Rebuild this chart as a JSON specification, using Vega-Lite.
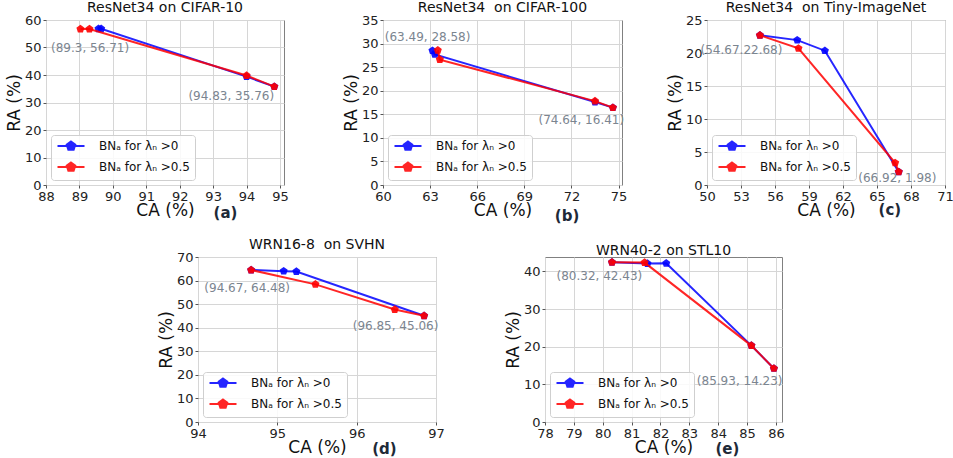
{
  "$schema": "https://vega.github.io/schema/vega-lite/v6.json",
  "padding": {"left": 4, "top": 0, "right": 0, "bottom": 0},
  "background": "white",
  "datasets": {
    "pts": [
      {"panel": "a", "k": 0, "series": "BNₐ for λₙ >0", "ca": 89.57, "ra": 56.8},
      {"panel": "a", "k": 0, "series": "BNₐ for λₙ >0", "ca": 89.65, "ra": 56.8},
      {"panel": "a", "k": 0, "series": "BNₐ for λₙ >0", "ca": 94.0, "ra": 39.4},
      {"panel": "a", "k": 0, "series": "BNₐ for λₙ >0", "ca": 94.83, "ra": 35.76},
      {"panel": "a", "k": 1, "series": "BNₐ for λₙ >0.5", "ca": 89.03, "ra": 56.71},
      {"panel": "a", "k": 1, "series": "BNₐ for λₙ >0.5", "ca": 89.3, "ra": 56.71},
      {"panel": "a", "k": 1, "series": "BNₐ for λₙ >0.5", "ca": 94.0, "ra": 39.8},
      {"panel": "a", "k": 1, "series": "BNₐ for λₙ >0.5", "ca": 94.83, "ra": 35.76},
      {"panel": "b", "k": 0, "series": "BNₐ for λₙ >0", "ca": 63.15, "ra": 28.5},
      {"panel": "b", "k": 0, "series": "BNₐ for λₙ >0", "ca": 63.3, "ra": 27.7},
      {"panel": "b", "k": 0, "series": "BNₐ for λₙ >0", "ca": 73.5, "ra": 17.6},
      {"panel": "b", "k": 0, "series": "BNₐ for λₙ >0", "ca": 74.64, "ra": 16.41},
      {"panel": "b", "k": 1, "series": "BNₐ for λₙ >0.5", "ca": 63.49, "ra": 28.58},
      {"panel": "b", "k": 1, "series": "BNₐ for λₙ >0.5", "ca": 63.62, "ra": 26.6},
      {"panel": "b", "k": 1, "series": "BNₐ for λₙ >0.5", "ca": 73.5, "ra": 17.8},
      {"panel": "b", "k": 1, "series": "BNₐ for λₙ >0.5", "ca": 74.64, "ra": 16.41},
      {"panel": "c", "k": 0, "series": "BNₐ for λₙ >0", "ca": 54.67, "ra": 22.68},
      {"panel": "c", "k": 0, "series": "BNₐ for λₙ >0", "ca": 57.96, "ra": 21.95},
      {"panel": "c", "k": 0, "series": "BNₐ for λₙ >0", "ca": 60.4, "ra": 20.35},
      {"panel": "c", "k": 0, "series": "BNₐ for λₙ >0", "ca": 66.92, "ra": 1.98},
      {"panel": "c", "k": 1, "series": "BNₐ for λₙ >0.5", "ca": 54.67, "ra": 22.68},
      {"panel": "c", "k": 1, "series": "BNₐ for λₙ >0.5", "ca": 58.07, "ra": 20.7},
      {"panel": "c", "k": 1, "series": "BNₐ for λₙ >0.5", "ca": 66.6, "ra": 3.35},
      {"panel": "c", "k": 1, "series": "BNₐ for λₙ >0.5", "ca": 66.92, "ra": 1.98},
      {"panel": "d", "k": 0, "series": "BNₐ for λₙ >0", "ca": 94.67, "ra": 64.48},
      {"panel": "d", "k": 0, "series": "BNₐ for λₙ >0", "ca": 95.08, "ra": 64.0},
      {"panel": "d", "k": 0, "series": "BNₐ for λₙ >0", "ca": 95.24, "ra": 63.8},
      {"panel": "d", "k": 0, "series": "BNₐ for λₙ >0", "ca": 96.85, "ra": 45.06},
      {"panel": "d", "k": 1, "series": "BNₐ for λₙ >0.5", "ca": 94.67, "ra": 64.48},
      {"panel": "d", "k": 1, "series": "BNₐ for λₙ >0.5", "ca": 95.48, "ra": 58.4},
      {"panel": "d", "k": 1, "series": "BNₐ for λₙ >0.5", "ca": 96.48, "ra": 47.7},
      {"panel": "d", "k": 1, "series": "BNₐ for λₙ >0.5", "ca": 96.85, "ra": 45.06},
      {"panel": "e", "k": 0, "series": "BNₐ for λₙ >0", "ca": 80.32, "ra": 42.43},
      {"panel": "e", "k": 0, "series": "BNₐ for λₙ >0", "ca": 81.55, "ra": 42.1},
      {"panel": "e", "k": 0, "series": "BNₐ for λₙ >0", "ca": 82.2, "ra": 42.15},
      {"panel": "e", "k": 0, "series": "BNₐ for λₙ >0", "ca": 85.15, "ra": 20.3},
      {"panel": "e", "k": 0, "series": "BNₐ for λₙ >0", "ca": 85.93, "ra": 14.23},
      {"panel": "e", "k": 1, "series": "BNₐ for λₙ >0.5", "ca": 80.32, "ra": 42.43},
      {"panel": "e", "k": 1, "series": "BNₐ for λₙ >0.5", "ca": 81.45, "ra": 42.35},
      {"panel": "e", "k": 1, "series": "BNₐ for λₙ >0.5", "ca": 85.15, "ra": 20.3},
      {"panel": "e", "k": 1, "series": "BNₐ for λₙ >0.5", "ca": 85.93, "ra": 14.23}
    ],
    "notes": [
      {"panel": "a", "kind": "note", "label": "(89.3, 56.71)", "ca": 88.15, "ra": 49.8},
      {"panel": "a", "kind": "note", "label": "(94.83, 35.76)", "ca": 92.26, "ra": 32.3},
      {"panel": "a", "kind": "tag", "label": "(a)", "ca": 93.37, "ra": -10.1},
      {"panel": "b", "kind": "note", "label": "(63.49, 28.58)", "ca": 60.11, "ra": 31.35},
      {"panel": "b", "kind": "note", "label": "(74.64, 16.41)", "ca": 69.9, "ra": 13.76},
      {"panel": "b", "kind": "tag", "label": "(b)", "ca": 71.72, "ra": -6.5},
      {"panel": "c", "kind": "note", "label": "(54.67.22.68)", "ca": 49.43, "ra": 20.5},
      {"panel": "c", "kind": "note", "label": "(66.92, 1.98)", "ca": 63.35, "ra": 1.0},
      {"panel": "c", "kind": "tag", "label": "(c)", "ca": 66.14, "ra": -3.73},
      {"panel": "d", "kind": "note", "label": "(94.67, 64.48)", "ca": 94.08, "ra": 57.0},
      {"panel": "d", "kind": "note", "label": "(96.85, 45.06)", "ca": 95.95, "ra": 40.7},
      {"panel": "d", "kind": "tag", "label": "(d)", "ca": 96.35, "ra": -11.3},
      {"panel": "e", "kind": "note", "label": "(80.32, 42.43)", "ca": 78.4, "ra": 38.67},
      {"panel": "e", "kind": "note", "label": "(85.93, 14.23)", "ca": 83.26, "ra": 10.9},
      {"panel": "e", "kind": "tag", "label": "(e)", "ca": 84.32, "ra": -7.1}
    ]
  },
  "spacing": 12,
  "resolve": {"scale": {"color": "independent"}},
  "vconcat": [
    {
      "spacing": 37,
      "resolve": {"scale": {"color": "independent"}},
      "hconcat": [
        {
          "spacing": 52,
          "resolve": {"scale": {"color": "independent"}},
          "hconcat": [
            {
              "width": 238, "height": 165,
              "title": "ResNet34 on CIFAR-10",
              "encoding": {
                "x": {"field": "ca", "type": "quantitative", "title": "CA (%)", "scale": {"domain": [88, 95.12], "nice": false, "zero": false}, "axis": {"values": [88, 89, 90, 91, 92, 93, 94, 95]}},
                "y": {"field": "ra", "type": "quantitative", "title": "RA (%)", "scale": {"domain": [0, 60], "nice": false}, "axis": {"values": [0, 10, 20, 30, 40, 50, 60]}}
              },
              "layer": [
                {"data": {"name": "pts"}, "transform": [{"filter": "datum.panel === 'a' && datum.k === 0"}],
                 "mark": {"type": "line", "strokeWidth": 2, "opacity": 0.85, "point": {"shape": "M0,-1L0.951,-0.309L0.588,0.809L-0.588,0.809L-0.951,-0.309Z", "size": 72, "filled": true, "opacity": 0.9}},
                 "encoding": {"color": {"field": "series", "type": "nominal", "scale": {"domain": ["BNₐ for λₙ >0", "BNₐ for λₙ >0.5"], "range": ["#0000ff", "#ff0000"]},
                   "legend": {"encode": {"symbols": {"update": {"fill": {"signal": "datum.value === 'BNₐ for λₙ >0' ? '#0000ff' : '#ff0000'"}, "stroke": {"signal": "datum.value === 'BNₐ for λₙ >0' ? '#0000ff' : '#ff0000'"}}}}}}}},
                {"data": {"name": "pts"}, "transform": [{"filter": "datum.panel === 'a' && datum.k === 1"}],
                 "mark": {"type": "line", "strokeWidth": 2, "opacity": 0.85, "point": {"shape": "M0,-1L0.951,-0.309L0.588,0.809L-0.588,0.809L-0.951,-0.309Z", "size": 72, "filled": true, "opacity": 0.9}},
                 "encoding": {"color": {"field": "series", "type": "nominal"}}},
                {"data": {"name": "notes"}, "transform": [{"filter": "datum.panel === 'a' && datum.kind === 'note'"}],
                 "mark": {"type": "text", "align": "left", "baseline": "middle", "fontSize": 12, "font": "DejaVu Sans", "color": "#7b8590"},
                 "encoding": {"text": {"field": "label"}}},
                {"data": {"name": "notes"}, "transform": [{"filter": "datum.panel === 'a' && datum.kind === 'tag'"}],
                 "mark": {"type": "text", "align": "center", "baseline": "middle", "fontSize": 15, "fontWeight": "bold", "font": "DejaVu Sans", "color": "#1e2a38"},
                 "encoding": {"text": {"field": "label"}}}
              ]
            },
            {
              "width": 239, "height": 165,
              "title": "ResNet34\u00a0 on CIFAR-100",
              "encoding": {
                "x": {"field": "ca", "type": "quantitative", "title": "CA (%)", "scale": {"domain": [60, 75.22], "nice": false, "zero": false}, "axis": {"values": [60, 63, 66, 69, 72, 75]}},
                "y": {"field": "ra", "type": "quantitative", "title": "RA (%)", "scale": {"domain": [0, 35], "nice": false}, "axis": {"values": [0, 5, 10, 15, 20, 25, 30, 35]}}
              },
              "layer": [
                {"data": {"name": "pts"}, "transform": [{"filter": "datum.panel === 'b' && datum.k === 0"}],
                 "mark": {"type": "line", "strokeWidth": 2, "opacity": 0.85, "point": {"shape": "M0,-1L0.951,-0.309L0.588,0.809L-0.588,0.809L-0.951,-0.309Z", "size": 72, "filled": true, "opacity": 0.9}},
                 "encoding": {"color": {"field": "series", "type": "nominal", "scale": {"domain": ["BNₐ for λₙ >0", "BNₐ for λₙ >0.5"], "range": ["#0000ff", "#ff0000"]},
                   "legend": {"encode": {"symbols": {"update": {"fill": {"signal": "datum.value === 'BNₐ for λₙ >0' ? '#0000ff' : '#ff0000'"}, "stroke": {"signal": "datum.value === 'BNₐ for λₙ >0' ? '#0000ff' : '#ff0000'"}}}}}}}},
                {"data": {"name": "pts"}, "transform": [{"filter": "datum.panel === 'b' && datum.k === 1"}],
                 "mark": {"type": "line", "strokeWidth": 2, "opacity": 0.85, "point": {"shape": "M0,-1L0.951,-0.309L0.588,0.809L-0.588,0.809L-0.951,-0.309Z", "size": 72, "filled": true, "opacity": 0.9}},
                 "encoding": {"color": {"field": "series", "type": "nominal"}}},
                {"data": {"name": "notes"}, "transform": [{"filter": "datum.panel === 'b' && datum.kind === 'note'"}],
                 "mark": {"type": "text", "align": "left", "baseline": "middle", "fontSize": 12, "font": "DejaVu Sans", "color": "#7b8590"},
                 "encoding": {"text": {"field": "label"}}},
                {"data": {"name": "notes"}, "transform": [{"filter": "datum.panel === 'b' && datum.kind === 'tag'"}],
                 "mark": {"type": "text", "align": "center", "baseline": "middle", "fontSize": 15, "fontWeight": "bold", "font": "DejaVu Sans", "color": "#1e2a38"},
                 "encoding": {"text": {"field": "label"}}}
              ]
            }
          ]
        },
        {
          "width": 238, "height": 165,
          "title": "ResNet34\u00a0 on Tiny-ImageNet",
          "encoding": {
            "x": {"field": "ca", "type": "quantitative", "title": "CA (%)", "scale": {"domain": [50, 71], "nice": false, "zero": false}, "axis": {"values": [50, 53, 56, 59, 62, 65, 68, 71]}},
            "y": {"field": "ra", "type": "quantitative", "title": "RA (%)", "scale": {"domain": [0, 25], "nice": false}, "axis": {"values": [0, 5, 10, 15, 20, 25]}}
          },
          "layer": [
            {"data": {"name": "pts"}, "transform": [{"filter": "datum.panel === 'c' && datum.k === 0"}],
             "mark": {"type": "line", "strokeWidth": 2, "opacity": 0.85, "point": {"shape": "M0,-1L0.951,-0.309L0.588,0.809L-0.588,0.809L-0.951,-0.309Z", "size": 72, "filled": true, "opacity": 0.9}},
             "encoding": {"color": {"field": "series", "type": "nominal", "scale": {"domain": ["BNₐ for λₙ >0", "BNₐ for λₙ >0.5"], "range": ["#0000ff", "#ff0000"]},
               "legend": {"encode": {"symbols": {"update": {"fill": {"signal": "datum.value === 'BNₐ for λₙ >0' ? '#0000ff' : '#ff0000'"}, "stroke": {"signal": "datum.value === 'BNₐ for λₙ >0' ? '#0000ff' : '#ff0000'"}}}}}}}},
            {"data": {"name": "pts"}, "transform": [{"filter": "datum.panel === 'c' && datum.k === 1"}],
             "mark": {"type": "line", "strokeWidth": 2, "opacity": 0.85, "point": {"shape": "M0,-1L0.951,-0.309L0.588,0.809L-0.588,0.809L-0.951,-0.309Z", "size": 72, "filled": true, "opacity": 0.9}},
             "encoding": {"color": {"field": "series", "type": "nominal"}}},
            {"data": {"name": "notes"}, "transform": [{"filter": "datum.panel === 'c' && datum.kind === 'note'"}],
             "mark": {"type": "text", "align": "left", "baseline": "middle", "fontSize": 12, "font": "DejaVu Sans", "color": "#7b8590"},
             "encoding": {"text": {"field": "label"}}},
            {"data": {"name": "notes"}, "transform": [{"filter": "datum.panel === 'c' && datum.kind === 'tag'"}],
             "mark": {"type": "text", "align": "center", "baseline": "middle", "fontSize": 15, "fontWeight": "bold", "font": "DejaVu Sans", "color": "#1e2a38"},
             "encoding": {"text": {"field": "label"}}}
          ]
        }
      ]
    },
    {
      "spacing": 58,
      "resolve": {"scale": {"color": "independent"}},
      "hconcat": [
        {"width": 52, "height": 10, "data": {"values": [{}]}, "mark": {"type": "point", "opacity": 0}, "view": {"stroke": null}},
        {
          "width": 238, "height": 165,
          "title": "WRN16-8\u00a0 on SVHN",
          "encoding": {
            "x": {"field": "ca", "type": "quantitative", "title": "CA (%)", "scale": {"domain": [94, 97], "nice": false, "zero": false}, "axis": {"values": [94, 95, 96, 97]}},
            "y": {"field": "ra", "type": "quantitative", "title": "RA (%)", "scale": {"domain": [0, 70], "nice": false}, "axis": {"values": [0, 10, 20, 30, 40, 50, 60, 70]}}
          },
          "layer": [
            {"data": {"name": "pts"}, "transform": [{"filter": "datum.panel === 'd' && datum.k === 0"}],
             "mark": {"type": "line", "strokeWidth": 2, "opacity": 0.85, "point": {"shape": "M0,-1L0.951,-0.309L0.588,0.809L-0.588,0.809L-0.951,-0.309Z", "size": 72, "filled": true, "opacity": 0.9}},
             "encoding": {"color": {"field": "series", "type": "nominal", "scale": {"domain": ["BNₐ for λₙ >0", "BNₐ for λₙ >0.5"], "range": ["#0000ff", "#ff0000"]},
               "legend": {"encode": {"symbols": {"update": {"fill": {"signal": "datum.value === 'BNₐ for λₙ >0' ? '#0000ff' : '#ff0000'"}, "stroke": {"signal": "datum.value === 'BNₐ for λₙ >0' ? '#0000ff' : '#ff0000'"}}}}}}}},
            {"data": {"name": "pts"}, "transform": [{"filter": "datum.panel === 'd' && datum.k === 1"}],
             "mark": {"type": "line", "strokeWidth": 2, "opacity": 0.85, "point": {"shape": "M0,-1L0.951,-0.309L0.588,0.809L-0.588,0.809L-0.951,-0.309Z", "size": 72, "filled": true, "opacity": 0.9}},
             "encoding": {"color": {"field": "series", "type": "nominal"}}},
            {"data": {"name": "notes"}, "transform": [{"filter": "datum.panel === 'd' && datum.kind === 'note'"}],
             "mark": {"type": "text", "align": "left", "baseline": "middle", "fontSize": 12, "font": "DejaVu Sans", "color": "#7b8590"},
             "encoding": {"text": {"field": "label"}}},
            {"data": {"name": "notes"}, "transform": [{"filter": "datum.panel === 'd' && datum.kind === 'tag'"}],
             "mark": {"type": "text", "align": "center", "baseline": "middle", "fontSize": 15, "fontWeight": "bold", "font": "DejaVu Sans", "color": "#1e2a38"},
             "encoding": {"text": {"field": "label"}}}
          ]
        },
        {
          "width": 237, "height": 165,
          "title": "WRN40-2 on STL10",
          "encoding": {
            "x": {"field": "ca", "type": "quantitative", "title": "CA (%)", "scale": {"domain": [78, 86.21], "nice": false, "zero": false}, "axis": {"values": [78, 79, 80, 81, 82, 83, 84, 85, 86]}},
            "y": {"field": "ra", "type": "quantitative", "title": "RA (%)", "scale": {"domain": [0, 43.84], "nice": false}, "axis": {"values": [0, 10, 20, 30, 40]}}
          },
          "layer": [
            {"data": {"name": "pts"}, "transform": [{"filter": "datum.panel === 'e' && datum.k === 0"}],
             "mark": {"type": "line", "strokeWidth": 2, "opacity": 0.85, "point": {"shape": "M0,-1L0.951,-0.309L0.588,0.809L-0.588,0.809L-0.951,-0.309Z", "size": 72, "filled": true, "opacity": 0.9}},
             "encoding": {"color": {"field": "series", "type": "nominal", "scale": {"domain": ["BNₐ for λₙ >0", "BNₐ for λₙ >0.5"], "range": ["#0000ff", "#ff0000"]},
               "legend": {"encode": {"symbols": {"update": {"fill": {"signal": "datum.value === 'BNₐ for λₙ >0' ? '#0000ff' : '#ff0000'"}, "stroke": {"signal": "datum.value === 'BNₐ for λₙ >0' ? '#0000ff' : '#ff0000'"}}}}}}}},
            {"data": {"name": "pts"}, "transform": [{"filter": "datum.panel === 'e' && datum.k === 1"}],
             "mark": {"type": "line", "strokeWidth": 2, "opacity": 0.85, "point": {"shape": "M0,-1L0.951,-0.309L0.588,0.809L-0.588,0.809L-0.951,-0.309Z", "size": 72, "filled": true, "opacity": 0.9}},
             "encoding": {"color": {"field": "series", "type": "nominal"}}},
            {"data": {"name": "notes"}, "transform": [{"filter": "datum.panel === 'e' && datum.kind === 'note'"}],
             "mark": {"type": "text", "align": "left", "baseline": "middle", "fontSize": 12, "font": "DejaVu Sans", "color": "#7b8590"},
             "encoding": {"text": {"field": "label"}}},
            {"data": {"name": "notes"}, "transform": [{"filter": "datum.panel === 'e' && datum.kind === 'tag'"}],
             "mark": {"type": "text", "align": "center", "baseline": "middle", "fontSize": 15, "fontWeight": "bold", "font": "DejaVu Sans", "color": "#1e2a38"},
             "encoding": {"text": {"field": "label"}}}
          ]
        }
      ]
    }
  ],
  "config": {
    "font": "DejaVu Sans",
    "view": {"stroke": "#808080", "strokeWidth": 1},
    "title": {"fontSize": 14, "fontWeight": "normal", "font": "DejaVu Sans", "color": "#111111", "offset": -1},
    "axis": {
      "labelFont": "DejaVu Sans", "titleFont": "DejaVu Sans",
      "labelFontSize": 13, "titleFontSize": 17, "titleFontWeight": "normal",
      "labelColor": "#222222", "titleColor": "#111111",
      "gridColor": "#d6d6d6", "gridWidth": 1,
      "domain": false, "tickColor": "#555555", "tickSize": 3, "labelPadding": 2,
      "labelFlush": false, "labelOverlap": false
    },
    "axisX": {"titlePadding": -1},
    "axisY": {"titlePadding": 1},
    "legend": {
      "title": null, "orient": "bottom-left", "offset": 5,
      "symbolType": "M-3,0L3,0M0,-1L0.951,-0.309L0.588,0.809L-0.588,0.809L-0.951,-0.309Z",
      "symbolSize": 81, "symbolStrokeWidth": 2, "symbolOffset": 9, "labelOffset": 22,
      "labelFont": "DejaVu Sans", "labelFontSize": 12, "labelColor": "#111111",
      "padding": 5, "rowPadding": 4,
      "strokeColor": "#cfcfcf", "fillColor": "rgba(255,255,255,0.85)", "cornerRadius": 3
    }
  }
}
